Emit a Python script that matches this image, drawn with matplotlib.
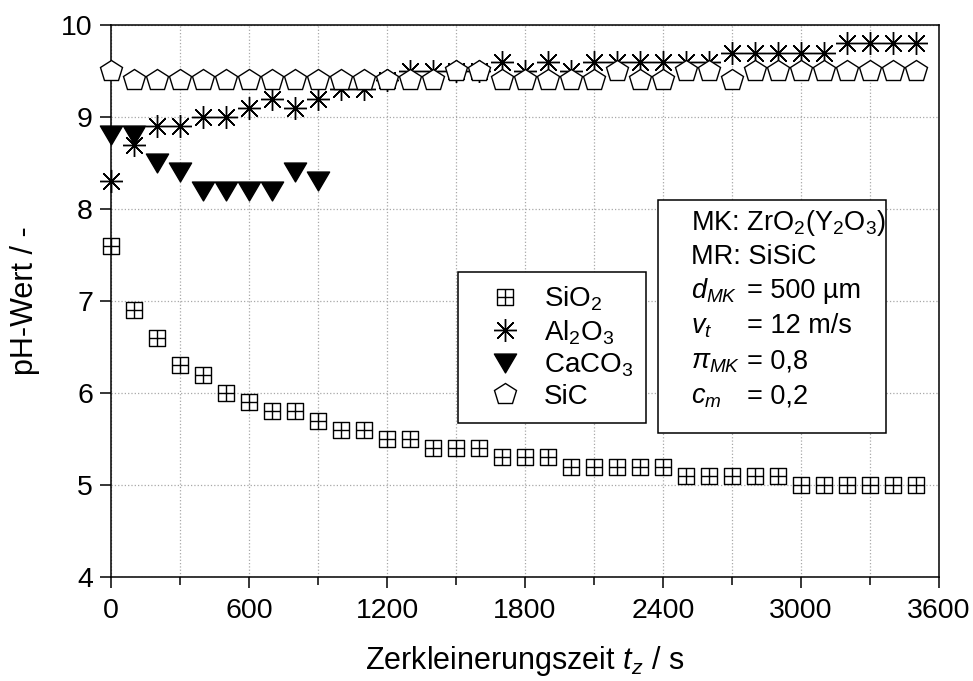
import matplotlib
matplotlib.use("Agg")
import matplotlib.pyplot as plt
from matplotlib.path import Path
from matplotlib.patches import Rectangle
from matplotlib.ticker import MultipleLocator

plt.rcParams['font.family'] = ['Liberation Sans', 'DejaVu Sans']
plt.rcParams['mathtext.fontset'] = 'custom'
plt.rcParams['mathtext.rm'] = 'Liberation Sans'
plt.rcParams['mathtext.it'] = 'Liberation Sans:italic'
plt.rcParams['mathtext.bf'] = 'Liberation Sans:bold'

# time in s
t = [0, 100, 200, 300, 400, 500, 600, 700, 800, 900,
     1000, 1100, 1200, 1300, 1400, 1500, 1600, 1700, 1800, 1900,
     2000, 2100, 2200, 2300, 2400, 2500, 2600, 2700, 2800, 2900,
     3000, 3100, 3200, 3300, 3400, 3500]

ph_sio2 = [7.6, 6.9, 6.6, 6.3, 6.2, 6.0, 5.9, 5.8, 5.8, 5.7,
           5.6, 5.6, 5.5, 5.5, 5.4, 5.4, 5.4, 5.3, 5.3, 5.3,
           5.2, 5.2, 5.2, 5.2, 5.2, 5.1, 5.1, 5.1, 5.1, 5.1,
           5.0, 5.0, 5.0, 5.0, 5.0, 5.0]
ph_al2o3 = [8.3, 8.7, 8.9, 8.9, 9.0, 9.0, 9.1, 9.2, 9.1, 9.2,
            9.3, 9.3, 9.4, 9.5, 9.5, 9.5, 9.5, 9.6, 9.5, 9.6,
            9.5, 9.6, 9.6, 9.6, 9.6, 9.6, 9.6, 9.7, 9.7, 9.7,
            9.7, 9.7, 9.8, 9.8, 9.8, 9.8]
t_caco3 = [0, 100, 200, 300, 400, 500, 600, 700, 800, 900]
ph_caco3 = [8.8, 8.8, 8.5, 8.4, 8.2, 8.2, 8.2, 8.2, 8.4, 8.3]
ph_sic = [9.5, 9.4, 9.4, 9.4, 9.4, 9.4, 9.4, 9.4, 9.4, 9.4,
          9.4, 9.4, 9.4, 9.4, 9.4, 9.5, 9.5, 9.4, 9.4, 9.4,
          9.4, 9.4, 9.5, 9.4, 9.4, 9.5, 9.5, 9.4, 9.5, 9.5,
          9.5, 9.5, 9.5, 9.5, 9.5, 9.5]

# square with a cross inside
sq_cross = Path(
    [(-1, -1), (1, -1), (1, 1), (-1, 1), (-1, -1),
     (0, -1), (0, 1), (-1, 0), (1, 0)],
    [Path.MOVETO, Path.LINETO, Path.LINETO, Path.LINETO, Path.CLOSEPOLY,
     Path.MOVETO, Path.LINETO, Path.MOVETO, Path.LINETO])
# slightly flat down-triangle
tri_down = Path([(-1, 0.85), (1, 0.85), (0, -0.85), (-1, 0.85)],
                [Path.MOVETO, Path.LINETO, Path.LINETO, Path.CLOSEPOLY])

fig = plt.figure(figsize=(9.73, 6.81), dpi=100)
ax = fig.add_axes([0.1141, 0.1527, 0.8510, 0.8106])

mew = 1.0
ax.plot(t, ph_sio2, ls='none', marker=sq_cross, ms=11.5, mfc='none', mec='black',
        mew=mew, clip_on=False, label=r'SiO$_\mathregular{2}$', zorder=3)
ax.plot(t, ph_al2o3, ls='none', marker=(8, 2, 0), ms=16.5, mec='black',
        mew=mew, clip_on=False, label=r'Al$_\mathregular{2}$O$_\mathregular{3}$', zorder=3)
ax.plot(t_caco3, ph_caco3, ls='none', marker=tri_down, ms=16, mfc='black', mec='black',
        mew=mew, clip_on=False, label=r'CaCO$_\mathregular{3}$', zorder=3)
ax.plot(t, ph_sic, ls='none', marker='p', ms=16.5, mfc='white', mec='black',
        mew=mew, clip_on=False, label='SiC', zorder=3)

ax.set_xlim(0, 3600)
ax.set_ylim(4, 10)
ax.xaxis.set_major_locator(MultipleLocator(600))
ax.xaxis.set_minor_locator(MultipleLocator(300))
ax.yaxis.set_major_locator(MultipleLocator(1))

ax.tick_params(axis='both', which='major', direction='out', length=8, width=1.1,
               labelsize=20.5, top=False, right=False)
ax.tick_params(axis='x', which='major', pad=7)
ax.tick_params(axis='y', which='major', pad=5)
ax.tick_params(axis='x', which='minor', direction='out', length=6, width=1.1)
ax.tick_params(axis='y', which='minor', left=False)

for s in ax.spines.values():
    s.set_linewidth(1.1)
    s.set_color('black')

ax.grid(which='both', axis='x', color='#a8a8a8', ls=':', lw=0.9)
ax.grid(which='major', axis='y', color='#a8a8a8', ls=':', lw=0.9)
ax.set_axisbelow(True)

ax.set_xlabel(r'Zerkleinerungszeit $t_z$ / s', fontsize=22)
ax.set_ylabel('pH-Wert / -', fontsize=22)
ax.xaxis.set_label_coords(0.5, -0.122)
ax.yaxis.set_label_coords(-0.086, 0.5)

leg = ax.legend(loc='upper left', bbox_to_anchor=(0.4186, 0.5525), borderaxespad=0,
                fontsize=20, numpoints=1, handlelength=2.5, handletextpad=0.16,
                borderpad=0.45, labelspacing=0.18, fancybox=False,
                edgecolor='black', framealpha=1)
leg.get_frame().set_linewidth(1.1)
leg.set_zorder(5)

# info box
box = Rectangle((0.660, 0.261), 0.276, 0.422, transform=ax.transAxes,
                facecolor='white', edgecolor='black', lw=1.1, zorder=5)
ax.add_patch(box)

info_left = [r'MK: ZrO$_\mathregular{2}$(Y$_\mathregular{2}$O$_\mathregular{3}$)',
             'MR: SiSiC', r'$d_{MK}$', r'$v_t$', r'$\pi_{MK}$', r'$c_m$']
info_right = ['', '', '= 500 µm', '= 12 m/s', '= 0,8', '= 0,2']
baselines = [230, 264, 298, 333, 368, 403]

for lbl, val, yb in zip(info_left, info_right, baselines):
    ya = (577 - yb) / 552
    ax.text((692 - 111) / 829, ya, lbl, transform=ax.transAxes, fontsize=19.5,
            va='baseline', ha='left', zorder=6)
    if val:
        ax.text((748 - 111) / 829, ya, val, transform=ax.transAxes, fontsize=19.5,
                va='baseline', ha='left', zorder=6)

fig.savefig('out.png', dpi=100)
